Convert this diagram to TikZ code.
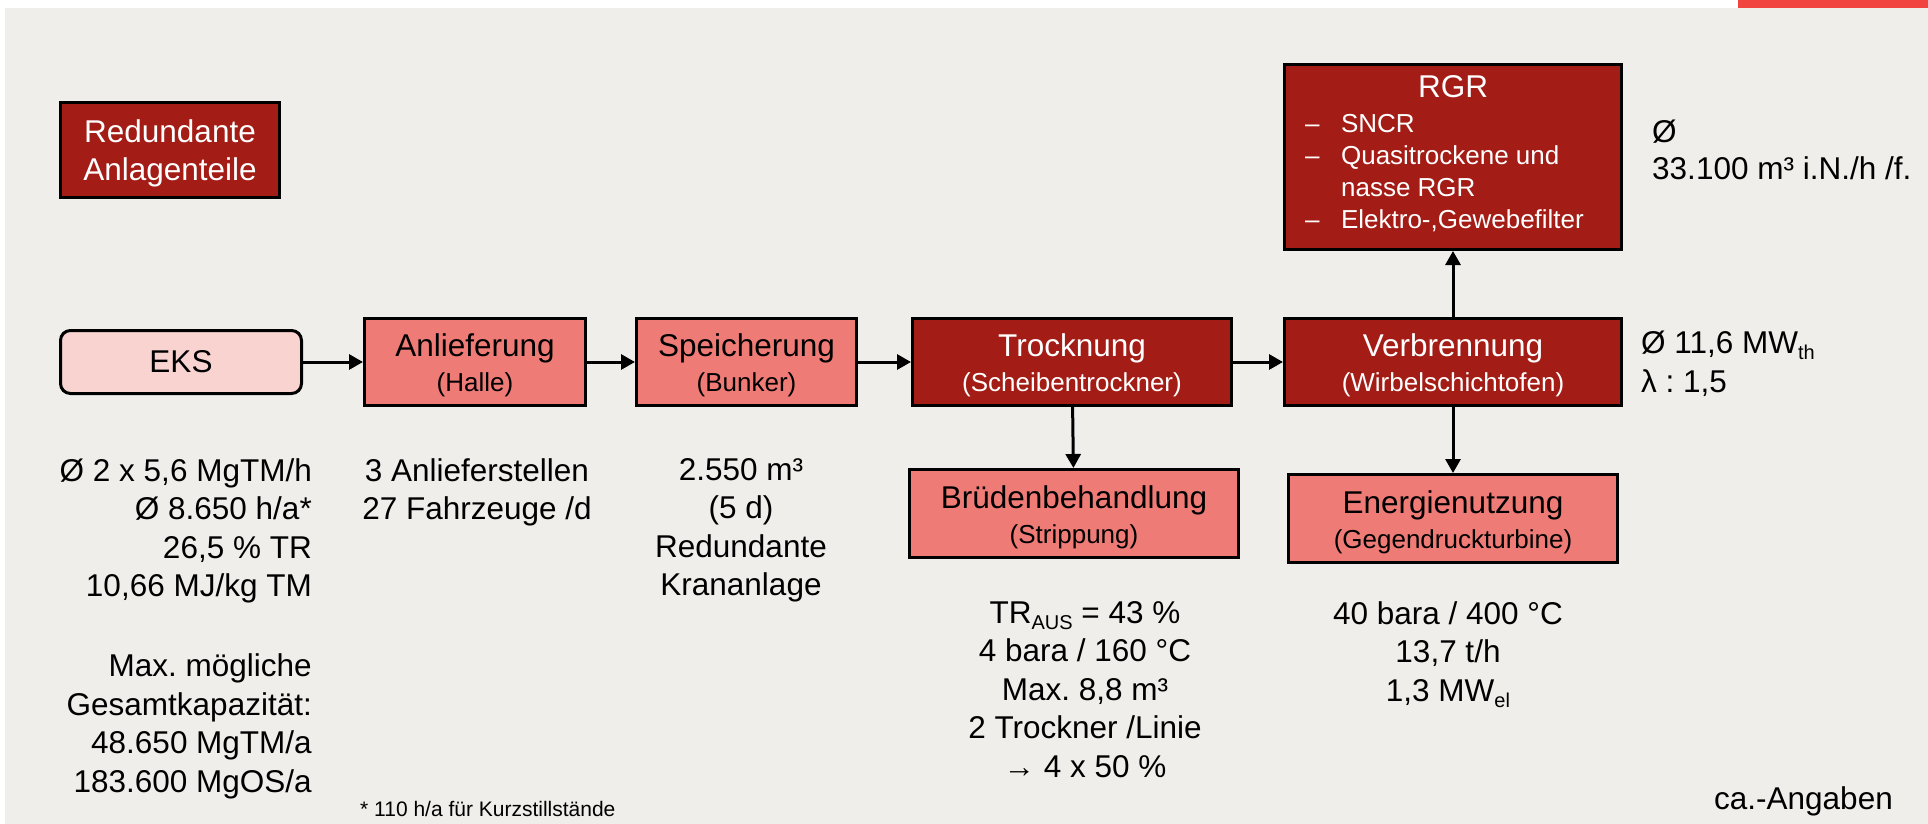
\documentclass[tikz,border=0pt]{standalone}
\usepackage{fontspec}
\setmainfont{Liberation Sans}
\usetikzlibrary{arrows.meta}
\frenchspacing
\definecolor{bgc}{RGB}{239,238,234}
\definecolor{dkred}{RGB}{163,29,22}
\definecolor{cSalmon}{RGB}{239,123,118}
\definecolor{cEks}{RGB}{248,211,208}
\definecolor{topred}{RGB}{241,68,64}
\newcommand\FBig{\fontsize{31.5}{38.5}\selectfont}
\newcommand\FSub{\fontsize{26}{32}\selectfont}
\newcommand\FNote{\fontsize{21}{25}\selectfont}
\newcommand\mysub[1]{\raisebox{-6pt}{\fontsize{20}{20}\selectfont #1}}
\newcommand\topstrut{\rule{0pt}{30pt}}
\tikzset{
  box/.style={draw=black, line width=3pt, inner sep=0pt, align=center, font=\FBig},
  darkbox/.style={box, fill=dkred, text=white},
  lightbox/.style={box, fill=cSalmon, text=black},
  ekbox/.style={box, fill=cEks, text=black, rounded corners=10pt},
  arr/.style={line width=3pt, -{Triangle[length=14pt,width=15pt]}},
  info/.style={inner sep=0pt, font=\FBig, text=black},
}
\begin{document}
\begin{tikzpicture}[x=1pt,y=-1pt]
\useasboundingbox (0,0) rectangle (1928,824);
\fill[white] (0,0) rectangle (1928,824);
\fill[bgc] (5,8) rectangle (1928,824);
\fill[topred] (1738,0) rectangle (1928,8);

% boxes
\node[darkbox, minimum width=219, minimum height=95] (redund) at (170,150) {\topstrut Redundante\\[-0.5pt]Anlagenteile};
\node[ekbox, minimum width=241, minimum height=63] (eks) at (181,362) {EKS};
\node[lightbox, minimum width=221, minimum height=87] (anl) at (475,362) {\topstrut Anlieferung\\[-3.5pt]{\FSub (Halle)}};
\node[lightbox, minimum width=220, minimum height=87] (spe) at (746.5,362) {\topstrut Speicherung\\[-3.5pt]{\FSub (Bunker)}};
\node[darkbox, minimum width=319, minimum height=87] (tro) at (1072,362) {\topstrut Trocknung\\[-3.5pt]{\FSub (Scheibentrockner)}};
\node[darkbox, minimum width=337, minimum height=87] (ver) at (1453,362) {\topstrut Verbrennung\\[-3.5pt]{\FSub (Wirbelschichtofen)}};
\node[darkbox, minimum width=337, minimum height=185] (rgr) at (1453,157) {\raisebox{-4pt}{\FSub\begin{tabular}{@{}l@{\hspace{21.5pt}}l@{}}\multicolumn{2}{c}{\hspace*{17pt}\FBig RGR}\\[3pt]
– & SNCR\\
– & Quasitrockene und\\
 & nasse RGR\\
– & Elektro-,Gewebefilter\end{tabular}}\hspace*{17pt}};
\node[lightbox, minimum width=329, minimum height=88] (bru) at (1074,513.5) {\topstrut Brüdenbehandlung\\[-3.5pt]{\FSub (Strippung)}};
\node[lightbox, minimum width=329, minimum height=88] (ene) at (1453,518.5) {\topstrut Energienutzung\\[-3.5pt]{\FSub (Gegendruckturbine)}};

% connectors
\draw[arr] (eks) -- (anl);
\draw[arr] (anl) -- (spe);
\draw[arr] (spe) -- (tro);
\draw[arr] (tro) -- (ver);
\draw[arr] (ver) -- (rgr);
\draw[arr] (tro) -- (bru);
\draw[arr] (ver) -- (ene);

% texts
\node[info, anchor=north east, align=right] (ekstxt) at (312,458) {Ø 2 x 5,6 MgTM/h\\Ø 8.650 h/a*\\26,5 \% TR\\10,66 MJ/kg TM\\[41.5pt]Max. mögliche\\Gesamtkapazität:\\48.650 MgTM/a\\183.600 MgOS/a};
\node[info, anchor=north, align=center] (anltxt) at (477,458) {3 Anlieferstellen\\27 Fahrzeuge /d};
\node[info, anchor=north, align=center] (spetxt) at (741,458) {2.550 m³\\(5 d)\\Redundante\\Krananlage};
\node[info, anchor=north, align=center] (brutxt) at (1085,601) {TR\mysub{AUS} = 43 \%\\4 bara / 160 °C\\Max. 8,8 m³\\2 Trockner /Linie\\→ 4 x 50 \%};
\node[info, anchor=north, align=center] (enetxt) at (1448,601) {40 bara / 400 °C\\13,7 t/h\\1,3 MW\mysub{el}};
\node[info, anchor=north west, align=left] (vertxt) at (1641,331) {Ø 11,6 MW\mysub{th}\\λ : 1,5};
\node[info, anchor=north west, align=left] (rgrtxt) at (1652,120) {Ø\\[-2pt]33.100 m³ i.N./h /f.};
\node[inner sep=0pt, anchor=base west, font=\FNote] (fn) at (360,816) {* 110 h/a für Kurzstillstände};
\node[info, anchor=base east] (ca) at (1893,809) {ca.-Angaben};
\end{tikzpicture}
\end{document}
